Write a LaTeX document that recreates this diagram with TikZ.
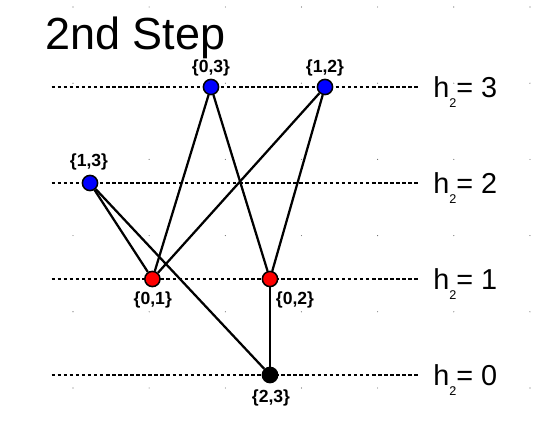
\documentclass[tikz,border=0pt]{standalone}
\usepackage{fontspec}
\setmainfont{Liberation Sans}
\begin{document}
\begin{tikzpicture}
[
setnode/.style={circle, draw=black, line width=1.1pt, minimum size=3.8mm, inner sep=0},
topset/.style={setnode, fill=blue},
midset/.style={setnode, fill=red},
lowset/.style={setnode, fill=black},
setlabel/.style={font=\fontsize{12.5}{14}\selectfont\bfseries, inner sep=0},
levelline/.style={line width=1.5pt, dash pattern=on 2.5pt off 1.8pt},
levellabel/.style={anchor=base west, inner sep=0, font=\fontsize{20.5}{24}\selectfont},
setedge/.style={line width=1.6pt}
]
\useasboundingbox (0,0) rectangle (13.7,10.625);
%Grid dots
\foreach \i in {0,...,6}
  \foreach \j in {0,...,5}
    \fill[black!60] (1.825+1.904*\i,10.45-1.905*\j) circle (0.4pt);

%Title
\node[anchor=base west, inner sep=0, font=\fontsize{32}{38}\selectfont] (title) at(1.125,9.39) {2nd Step};

%Levels
\foreach \h/\y in {3/8.45,2/6.05,1/3.65,0/1.25}
{
\coordinate (la\h) at(1.29,\y);
\coordinate (lb\h) at(10.5,\y);
\draw[levelline] (la\h) -- (lb\h);
\node[levellabel] (h\h) at(10.825,\y-0.26) {h\raisebox{-7.5pt}{\fontsize{9}{10}\selectfont 2}= \h};
}

%Nodes
\node[topset] at(5.275,8.45)	(n03) {};
\node[topset] at(8.125,8.45)	(n12) {};
\node[topset] at(2.25,6.05)		(n13) {};
\node[midset] at(3.81,3.65)		(n01) {};
\node[midset] at(6.75,3.65)		(n02) {};
\node[lowset] at(6.75,1.25)		(n23) {};
\node[setlabel]	(l03) at(5.275,8.92) {\{0,3\}};
\node[setlabel]	(l12) at(8.125,8.92) {\{1,2\}};
\node[setlabel]	(l13) at(2.225,6.575) {\{1,3\}};
\node[setlabel]	(l01) at(3.82,3.125) {\{0,1\}};
\node[setlabel]	(l02) at(7.375,3.125) {\{0,2\}};
\node[setlabel]	(l23) at(6.775,0.675) {\{2,3\}};

%Edges
\draw[setedge] (n03) -- (n01);
\draw[setedge] (n03) -- (n02);
\draw[setedge] (n12) -- (n01);
\draw[setedge] (n12) -- (n02);
\draw[setedge] (n13) -- (n01);
\draw[setedge] (n13) -- (n23);
\draw[setedge] (n02) -- (n23);

\end{tikzpicture}
\end{document}
